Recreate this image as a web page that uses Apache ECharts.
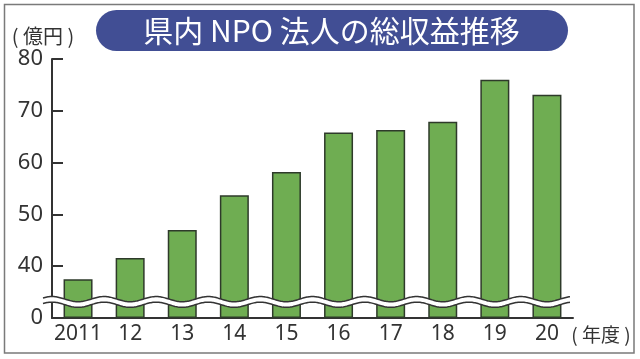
<!DOCTYPE html>
<html><head><meta charset="utf-8">
<script src="https://cdn.jsdelivr.net/npm/echarts@6/dist/echarts.min.js"></script>
<style>html,body{margin:0;padding:0;background:#fff}#c{width:640px;height:359px}</style>
</head><body><div id="c"></div>
<script>
const categories = ['2011', '12', '13', '14', '15', '16', '17', '18', '19', '20'];
const values = [37.5, 41.6, 47.0, 53.7, 58.2, 65.8, 66.3, 67.9, 76.0, 73.1];
const yTickLabels = ['0', '40', '50', '60', '70', '80'];
const titleText = '県内 NPO 法人の総収益推移';
const yUnit = '( 億円 )';
const xUnit = '( 年度 )';

// broken axis: the 0..40 span is collapsed to one 10-unit step
const BREAK_SHIFT = 30;
const axisValues = values.map(v => v - BREAK_SHIFT);

const chart = echarts.init(document.getElementById('c'), null, {renderer: 'canvas'});
const LATIN = '"Noto Sans", "Noto Sans CJK JP", sans-serif';
const CJK = '"Noto Sans CJK JP", sans-serif';
const INK = '#333';

chart.setOption({
  animation: false,
  backgroundColor: '#fff',
  grid: {left: 52, right: 67, top: 59, bottom: 41},
  xAxis: {
    type: 'category',
    data: categories,
    axisLine: {lineStyle: {color: INK, width: 2}},
    axisTick: {show: false},
    axisLabel: {interval: 0, color: INK, fontSize: 21, fontFamily: LATIN, margin: 6}
  },
  yAxis: {
    type: 'value',
    min: 0, max: 50, interval: 10,
    axisLine: {show: true, lineStyle: {color: INK, width: 2}},
    axisTick: {show: true, inside: true, length: 11, lineStyle: {color: INK, width: 2}},
    splitLine: {show: false},
    axisLabel: {color: INK, fontSize: 22, fontFamily: LATIN, margin: 9,
      formatter: v => yTickLabels[Math.round(v / 10)]}
  },
  series: [{
    type: 'bar',
    data: axisValues,
    barWidth: 29,
    itemStyle: {color: '#6fad52', borderColor: '#2e3a2a', borderWidth: 1.5}
  }]
});

// break symbol (wave) positioned from the axes
const c0 = chart.convertToPixel({xAxisIndex: 0}, 0);
const c1 = chart.convertToPixel({xAxisIndex: 0}, 1);
const step = c1 - c0;
const left = c0 - step / 2;
const right = chart.convertToPixel({xAxisIndex: 0}, categories.length - 1) + step / 2;
const yc = chart.convertToPixel({yAxisIndex: 0}, 3.1);
const A = 2.6, H = 2.8;
const upper = [], lower = [];
for (let x = left - 9; x <= right - 3; x += 1) {
  const y = yc - A * Math.cos(2 * Math.PI * (x - left) / step);
  upper.push([x, y - H]);
  lower.push([x, y + H]);
}
const band = upper.concat(lower.slice().reverse());

chart.setOption({
  graphic: [
    {type: 'rect', z: 200, shape: {x: 4.5, y: 4.5, width: 629.5, height: 348.5},
      style: {fill: 'none', stroke: '#7a7a7a', lineWidth: 1.5}},
    {type: 'rect', z: 200, shape: {x: 96, y: 10, width: 472, height: 41, r: 20.5},
      style: {fill: '#414e94'}},
    {type: 'text', z: 201, x: 331.5, y: 31,
      style: {text: titleText, fill: '#fff', font: '30px ' + CJK, align: 'center', verticalAlign: 'middle'}},
    {type: 'text', z: 201, x: 43, y: 36,
      style: {text: yUnit, fill: INK, font: '20px ' + CJK, align: 'center', verticalAlign: 'middle'}},
    {type: 'text', z: 201, x: 601, y: 335,
      style: {text: xUnit, fill: INK, font: '19px ' + CJK, align: 'center', verticalAlign: 'middle'}},
    {type: 'polygon', z: 150, shape: {points: band}, style: {fill: '#fff', stroke: 'none'}},
    {type: 'polyline', z: 151, shape: {points: upper}, style: {stroke: INK, lineWidth: 1.5, fill: 'none'}},
    {type: 'polyline', z: 151, shape: {points: lower}, style: {stroke: INK, lineWidth: 1.5, fill: 'none'}}
  ]
});
</script>
</body></html>
